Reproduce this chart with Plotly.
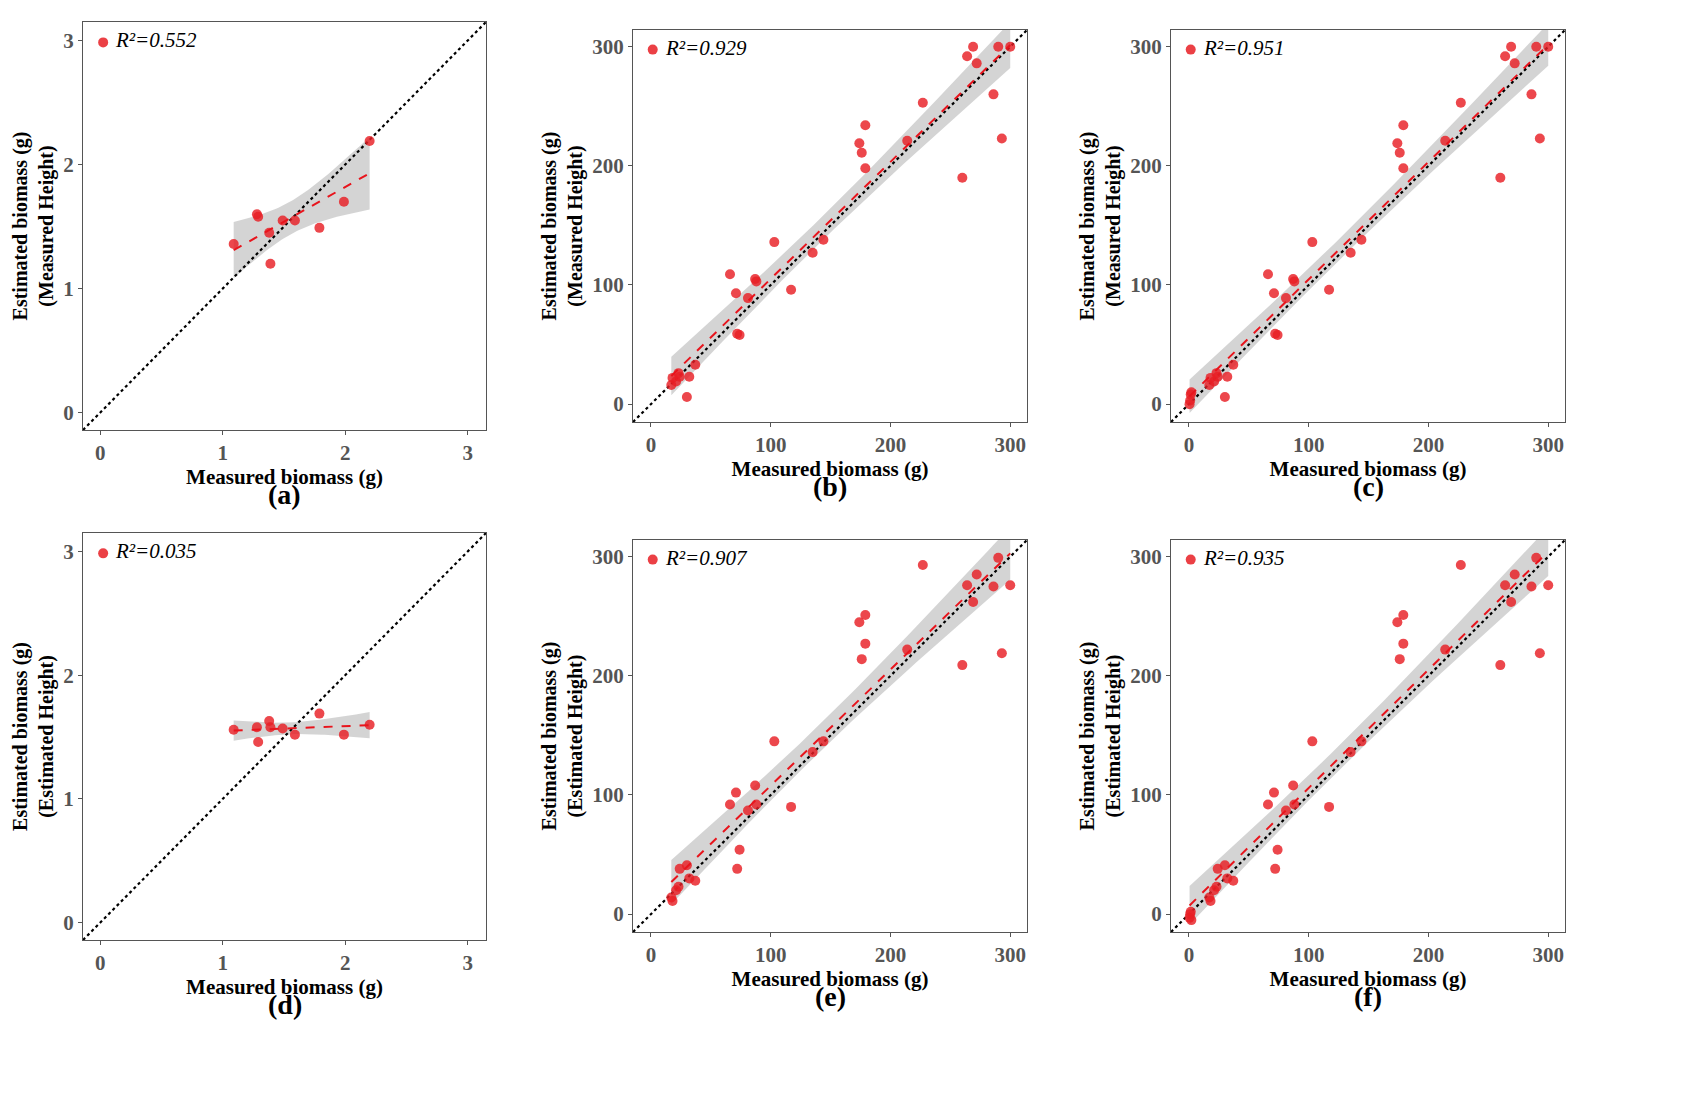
import numpy as np
import plotly.graph_objects as go

# ---------- data ----------
a_x = [1.09, 1.28, 1.29, 1.38, 1.39, 1.49, 1.59, 1.79, 1.99, 2.2]
a_y = [1.36, 1.60, 1.58, 1.45, 1.20, 1.55, 1.55, 1.49, 1.70, 2.19]
d_x = [1.09, 1.28, 1.29, 1.38, 1.39, 1.49, 1.59, 1.79, 1.99, 2.2]
d_y = [1.56, 1.58, 1.46, 1.63, 1.58, 1.57, 1.52, 1.69, 1.52, 1.60]

big_x = [17, 18, 21, 23, 24, 30, 32, 37, 66, 71, 72, 74, 81, 87, 88, 103, 117,
         135, 144, 174, 176, 179, 179, 214, 227, 260, 264, 269, 272, 286, 290, 293, 300]
b_y = [16, 22, 19, 26, 23, 6, 23, 33, 109, 93, 59, 58, 89, 105, 103, 136, 96,
       127, 138, 219, 211, 234, 198, 221, 253, 190, 292, 300, 286, 260, 300, 223, 300]
e_y = [14, 11, 20, 23, 38, 41, 30, 28, 92, 102, 38, 54, 87, 108, 92, 145, 90,
       136, 145, 245, 214, 251, 227, 222, 293, 209, 276, 262, 285, 275, 299, 219, 276]
zero_x = [0.5, 1, 1.5, 2]
c_zero_y = [0, 3, 8, 10]
f_zero_y = [-3, 0, 2, -5]

c_x = zero_x + big_x
c_y = c_zero_y + b_y
f_x = zero_x + big_x
f_y = f_zero_y + e_y

r2_labels = ["0.552", "0.929", "0.951", "0.035", "0.907", "0.935"]
panel_labels = ["(a)", "(b)", "(c)", "(d)", "(e)", "(f)"]
y_titles = ["Estimated biomass (g)<br>(Measured Height)"] * 3 + ["Estimated biomass (g)<br>(Estimated Height)"] * 3
small_ticks = [0, 1, 2, 3]
big_ticks = [0, 100, 200, 300]
small_range = [-0.14, 3.15]
big_range = [-15, 314]

panels = [(a_x, a_y), (big_x, b_y), (c_x, c_y), (d_x, d_y), (big_x, e_y), (f_x, f_y)]

W, H = 1689, 1093
boxes = [(75, 14, 478, 422), (625, 22, 1019, 414), (1163, 22, 1557, 414),
         (75, 525, 478, 932), (625, 532, 1019, 924), (1163, 532, 1557, 924)]

FONT = "Liberation Serif"
fig = go.Figure()
layout = dict(width=W, height=H, margin=dict(l=0, r=0, t=0, b=0),
              paper_bgcolor="white", plot_bgcolor="white", showlegend=False)
annotations = []

for i, ((x, y), box) in enumerate(zip(panels, boxes)):
    k = "" if i == 0 else str(i + 1)
    xa, ya = "x" + k, "y" + k
    small = i in (0, 3)
    rng = small_range if small else big_range
    ticks = small_ticks if small else big_ticks
    x = np.array(x, float); y = np.array(y, float)
    n = len(x)
    b1, b0 = np.polyfit(x, y, 1)
    xs = np.linspace(x.min(), x.max(), 80)
    yh = b0 + b1 * xs
    res = y - (b0 + b1 * x)
    s = np.sqrt((res ** 2).sum() / (n - 2))
    df = n - 2
    t = 1.96 + 2.4 / df + 2.0 / df ** 2
    se = s * np.sqrt(1 / n + (xs - x.mean()) ** 2 / ((x - x.mean()) ** 2).sum())
    fig.add_trace(go.Scatter(x=np.concatenate([xs, xs[::-1]]),
                             y=np.concatenate([yh + t * se, (yh - t * se)[::-1]]),
                             fill="toself", fillcolor="rgba(160,160,160,0.45)",
                             line=dict(width=0), mode="lines", xaxis=xa, yaxis=ya, hoverinfo="skip"))
    fig.add_trace(go.Scatter(x=rng, y=rng, mode="lines", line=dict(color="black", width=2.2, dash="dot"),
                             xaxis=xa, yaxis=ya))
    fig.add_trace(go.Scatter(x=x, y=y, mode="markers",
                             marker=dict(color="rgba(232,30,36,0.82)", size=10), xaxis=xa, yaxis=ya))
    fig.add_trace(go.Scatter(x=xs, y=yh, mode="lines", line=dict(color="#e8141c", width=2, dash="dash"),
                             xaxis=xa, yaxis=ya))
    l, tp, r, bt = box
    axcommon = dict(range=rng, tickvals=ticks, showgrid=False, zeroline=False, showline=True,
                    mirror=True, linecolor="#555", linewidth=1.3, ticks="outside", ticklen=4,
                    tickcolor="#555", tickfont=dict(family=FONT, size=21, color="#555", weight="bold"))
    layout["xaxis" + k] = dict(axcommon, domain=[l / W, r / W], anchor=ya,
                               title=dict(text="<b>Measured biomass (g)</b>", standoff=0,
                                          font=dict(family=FONT, size=21, color="black")))
    layout["yaxis" + k] = dict(axcommon, domain=[1 - bt / H, 1 - tp / H], anchor=xa,
                               title=dict(text="<b>" + y_titles[i] + "</b>", standoff=4,
                                          font=dict(family=FONT, size=20, color="black")))
    fig.add_trace(go.Scatter(x=[rng[0] + (rng[1] - rng[0]) * 0.05], y=[rng[0] + (rng[1] - rng[0]) * 0.95],
                             mode="markers", marker=dict(color="rgba(232,30,36,0.85)", size=10),
                             xaxis=xa, yaxis=ya))
    annotations.append(dict(x=(l + 30) / W, y=1 - (tp + 18) / H, xref="paper", yref="paper",
                            xanchor="left", yanchor="middle", showarrow=False,
                            text="<i>R²=" + r2_labels[i] + "</i>",
                            font=dict(family=FONT, size=21, color="black")))
    annotations.append(dict(x=(l + r) / 2 / W, y=1 - (bt + 64) / H, xref="paper", yref="paper",
                            xanchor="center", yanchor="middle", showarrow=False,
                            text="<b>" + panel_labels[i] + "</b>",
                            font=dict(family=FONT, size=28, color="black")))

layout["annotations"] = annotations
fig.update_layout(**layout)
fig.write_html("out.html")
